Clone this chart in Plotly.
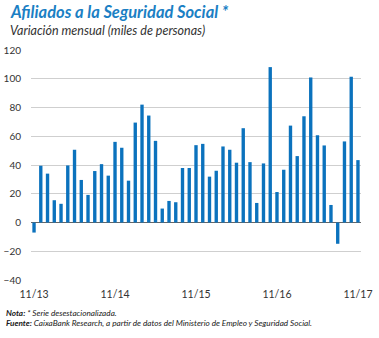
import plotly.graph_objects as go

months = ["11/13","12/13","01/14","02/14","03/14","04/14","05/14","06/14","07/14","08/14","09/14","10/14",
          "11/14","12/14","01/15","02/15","03/15","04/15","05/15","06/15","07/15","08/15","09/15","10/15",
          "11/15","12/15","01/16","02/16","03/16","04/16","05/16","06/16","07/16","08/16","09/16","10/16",
          "11/16","12/16","01/17","02/17","03/17","04/17","05/17","06/17","07/17","08/17","09/17","10/17",
          "11/17"]
values = [-7, 39.5, 34, 15.5, 13, 39.7, 50.6, 29.6, 19.2, 35.8, 40.6, 32.6,
          56.1, 52, 29.1, 69.5, 82, 74.4, 56.8, 9.7, 15, 14.1, 37.9, 37.9,
          53.8, 54.7, 31.9, 36, 52.9, 50.6, 41.6, 65.6, 42, 13.6, 41.1, 108.1,
          21.2, 36.7, 67.4, 46.2, 73.9, 100.9, 60.7, 53.6, 12.2, -14.8, 56.4, 101.4,
          43.4]
xtick_labels = ["11/13", "11/14", "11/15", "11/16", "11/17"]
ytick_vals = [-40, -20, 0, 20, 40, 60, 80, 100, 120]

W, H = 379, 338
pl, pr, pt, pb = 30.7, 18.3, 49.7, 58
pw, ph = W - pl - pr, H - pt - pb
def px(x): return (x - pl) / pw
def py(y): return (H - pb - y) / ph

idx = list(range(len(months)))
fig = go.Figure(go.Bar(x=idx, y=values, marker=dict(color="#0b72bd", line=dict(width=0)),
                       width=0.5))

fig.update_layout(
    width=W, height=H,
    margin=dict(l=pl, r=pr, t=pt, b=pb, autoexpand=False),
    paper_bgcolor="white", plot_bgcolor="white",
    showlegend=False,
    font=dict(family="Lato", color="#333333"),
    xaxis=dict(range=[-0.45, 48.45], tickmode="array",
               tickvals=[idx[months.index(m)] for m in xtick_labels],
               ticktext=xtick_labels, showgrid=False, zeroline=False, automargin=False,
               ticks="outside", ticklen=4, tickcolor="rgba(0,0,0,0)",
               tickfont=dict(size=10.5, color="#333333")),
    yaxis=dict(range=[-40, 120], tickvals=ytick_vals, showgrid=True, automargin=False,
               gridcolor="#cfcfcf", gridwidth=1, zeroline=True,
               zerolinecolor="#666666", zerolinewidth=1.2,
               ticks="outside", ticklen=7, tickcolor="rgba(0,0,0,0)",
               tickfont=dict(size=10, color="#333333")),
)

fig.add_annotation(text="<b><i>Afiliados a la Seguridad Social *</i></b>", x=px(8), y=py(12),
                   xref="paper", yref="paper", showarrow=False, xanchor="left", yanchor="middle",
                   font=dict(size=16.5, color="#1b7fc4", family="Lato"))
fig.add_annotation(text="<i>Variación mensual (miles de personas)</i>", x=px(8), y=py(30),
                   xref="paper", yref="paper", showarrow=False, xanchor="left", yanchor="middle",
                   font=dict(size=12.5, color="#333333", family="Lato"))
fig.add_annotation(text="<b><i>Nota:</i></b><i> * Serie desestacionalizada.</i>", x=px(4), y=py(313),
                   xref="paper", yref="paper", showarrow=False, xanchor="left", yanchor="middle",
                   font=dict(size=8.2, color="#1a1a1a", family="Lato"))
fig.add_annotation(text="<b><i>Fuente:</i></b><i> CaixaBank Research, a partir de datos del Ministerio de Empleo y Seguridad Social.</i>",
                   x=px(4), y=py(323), xref="paper", yref="paper", showarrow=False,
                   xanchor="left", yanchor="middle",
                   font=dict(size=8.2, color="#1a1a1a", family="Lato"))

fig.write_html("out.html")
